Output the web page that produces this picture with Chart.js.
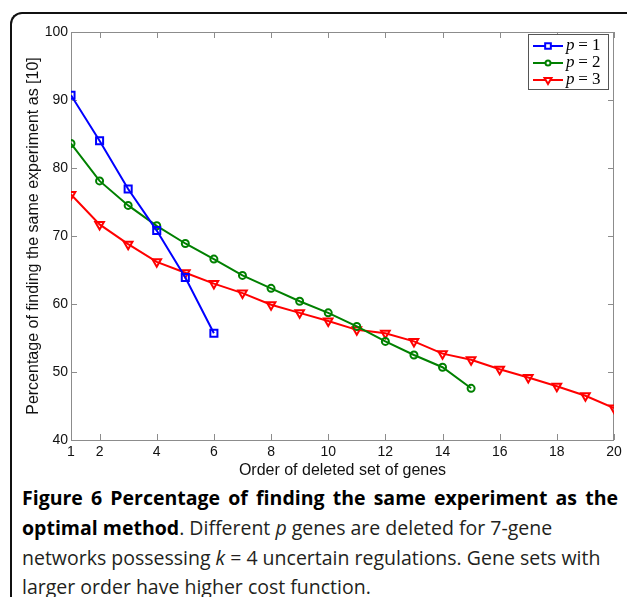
<!DOCTYPE html>
<html lang="en">
<head>
<meta charset="UTF-8">
<title>Figure 6</title>
<script src="https://cdn.jsdelivr.net/npm/chart.js"></script>
<style>
  body { margin: 0; background: #fff; width: 627px; height: 597px; overflow: hidden; position: relative; }
  .moldura { position: absolute; left: 10px; top: 12px; width: 620px; height: 620px;
             border-left: 2px solid #111; border-top: 2px solid #111; border-top-left-radius: 12px; }
  .grafico { position: absolute; left: 0; top: 0; }
  .legenda { position: absolute; left: 22px; top: 483px; font-family: "Open Sans", sans-serif;
             font-size: 19.5px; line-height: 29.8px; color: #231f20; white-space: nowrap; }
  .legenda b { color: #000; }
  .l1 { width: 596px; text-align: justify; text-align-last: justify; white-space: normal; }
</style>
</head>
<body>
<div class="moldura"></div>
<canvas id="myChart" class="grafico" width="627" height="480"></canvas>
<div class="legenda">
  <div class="l1"><b>Figure 6 Percentage of finding the same experiment as the</b></div>
  <div><b>optimal method</b>. Different <i>p</i> genes are deleted for 7-gene</div>
  <div>networks possessing <i>k</i> = 4 uncertain regulations. Gene sets with</div>
  <div>larger order have higher cost function.</div>
</div>
<script>
  // dados
  var ordem = [1, 2, 3, 4, 5, 6, 7, 8, 9, 10, 11, 12, 13, 14, 15, 16, 17, 18, 19, 20];
  var p1 = [90.7, 84.0, 76.9, 70.8, 63.9, 55.7];
  var p2 = [83.6, 78.1, 74.5, 71.5, 68.9, 66.6, 64.2, 62.3, 60.4, 58.7, 56.7, 54.5, 52.5, 50.7, 47.6];
  var p3 = [76.1, 71.7, 68.8, 66.2, 64.6, 63.0, 61.6, 59.9, 58.7, 57.5, 56.2, 55.7, 54.5, 52.7, 51.8, 50.4, 49.2, 47.9, 46.5, 44.7];
  var nomes = ['1', '2', '3'];
  var xTicks = [1, 2, 4, 6, 8, 10, 12, 14, 16, 18, 20];
  var yTicks = [40, 50, 60, 70, 80, 90, 100];

  function pontos(serie) {
    return serie.map(function (v, i) { return { x: ordem[i], y: v }; });
  }

  // caixa do eixo com marcas para dentro (estilo matlab) + legenda dentro do grafico
  var caixa = {
    id: 'caixa',
    beforeDatasetsDraw: function (chart) {
      var ctx = chart.ctx, a = chart.chartArea, sx = chart.scales.x, sy = chart.scales.y;
      ctx.save();
      ctx.strokeStyle = '#8c8c8c';
      ctx.lineWidth = 1;
      ctx.strokeRect(a.left + 0.5, a.top + 0.5, a.right - a.left - 1, a.bottom - a.top);
      ctx.beginPath();
      xTicks.forEach(function (v) {
        var px = Math.round(sx.getPixelForValue(v)) + 0.5;
        ctx.moveTo(px, a.bottom); ctx.lineTo(px, a.bottom - 6);
        ctx.moveTo(px, a.top); ctx.lineTo(px, a.top + 6);
      });
      yTicks.forEach(function (v) {
        var py = Math.round(sy.getPixelForValue(v)) + 0.5;
        ctx.moveTo(a.left, py); ctx.lineTo(a.left + 6, py);
        ctx.moveTo(a.right, py); ctx.lineTo(a.right - 6, py);
      });
      ctx.stroke();
      ctx.restore();
    },
    afterDraw: function (chart) {
      var ctx = chart.ctx, a = chart.chartArea;
      var bx = a.right - 86, by = a.top + 2, bw = 80, bh = 55;
      ctx.save();
      ctx.fillStyle = '#fff';
      ctx.fillRect(bx, by, bw, bh);
      ctx.strokeStyle = '#555';
      ctx.lineWidth = 1;
      ctx.strokeRect(bx + 0.5, by + 0.5, bw, bh);
      chart.data.datasets.forEach(function (ds, i) {
        var yy = by + 12 + i * 17;
        ctx.strokeStyle = ds.borderColor;
        ctx.lineWidth = 2;
        ctx.beginPath();
        ctx.moveTo(bx + 5, yy); ctx.lineTo(bx + 35, yy);
        ctx.stroke();
        ctx.fillStyle = '#fff';
        Chart.helpers.drawPoint(ctx, {
          pointStyle: ds.pointStyle, rotation: ds.pointRotation || 0,
          radius: ds.pointRadius - 1, borderWidth: 2
        }, bx + 20, yy);
        ctx.fillStyle = '#000';
        ctx.textBaseline = 'middle';
        ctx.font = 'italic 17px "Liberation Serif"';
        ctx.fillText('p', bx + 38, yy);
        ctx.font = '17px "Liberation Serif"';
        ctx.fillText(' = ' + nomes[i], bx + 46, yy);
      });
      ctx.restore();
    }
  };

  var fonte = { family: 'Liberation Sans, Arial, sans-serif', size: 14 };
  var fonteTitulo = { family: 'Liberation Sans, Arial, sans-serif', size: 16 };

  var config = {
    type: 'line',
    data: {
      datasets: [{
        label: 'p = 1',
        data: pontos(p1),
        borderColor: '#0000ff',
        backgroundColor: 'rgba(0,0,0,0)',
        pointStyle: 'rect',
        pointRadius: 5,
        pointBorderWidth: 2,
        borderWidth: 2
      }, {
        label: 'p = 2',
        data: pontos(p2),
        borderColor: '#008000',
        backgroundColor: 'rgba(0,0,0,0)',
        pointStyle: 'circle',
        pointRadius: 3.5,
        pointBorderWidth: 2,
        borderWidth: 2
      }, {
        label: 'p = 3',
        data: pontos(p3),
        borderColor: '#ff0000',
        backgroundColor: 'rgba(0,0,0,0)',
        pointStyle: 'triangle',
        pointRotation: 180,
        pointRadius: 5,
        pointBorderWidth: 2,
        borderWidth: 2
      }]
    },
    options: {
      responsive: false,
      animation: false,
      devicePixelRatio: 1,
      layout: { padding: { top: 32, right: 13, left: 0, bottom: 0 } },
      plugins: { legend: { display: false }, tooltip: { enabled: false } },
      scales: {
        x: {
          type: 'linear', min: 1, max: 20,
          grid: { display: false, drawTicks: false },
          border: { display: false },
          afterBuildTicks: function (s) { s.ticks = xTicks.map(function (v) { return { value: v }; }); },
          afterFit: function (s) { s.height = 40; },
          ticks: { autoSkip: false, maxRotation: 0, padding: 4, color: '#111', font: fonte },
          title: { display: true, text: 'Order of deleted set of genes', color: '#111',
                   font: fonteTitulo, padding: { top: -2, bottom: 0 } }
        },
        y: {
          min: 40, max: 100,
          grid: { display: false, drawTicks: false },
          border: { display: false },
          afterBuildTicks: function (s) { s.ticks = yTicks.map(function (v) { return { value: v }; }); },
          afterFit: function (s) { s.width = 71; },
          ticks: { padding: 3, color: '#111', font: fonte },
          title: { display: true, text: 'Percentage of finding the same experiment as [10]', color: '#111',
                   font: fonteTitulo, padding: { top: 24, bottom: 0 } }
        }
      }
    },
    plugins: [caixa]
  };

  var myChart = new Chart(document.getElementById('myChart'), config);
</script>
</body>
</html>
